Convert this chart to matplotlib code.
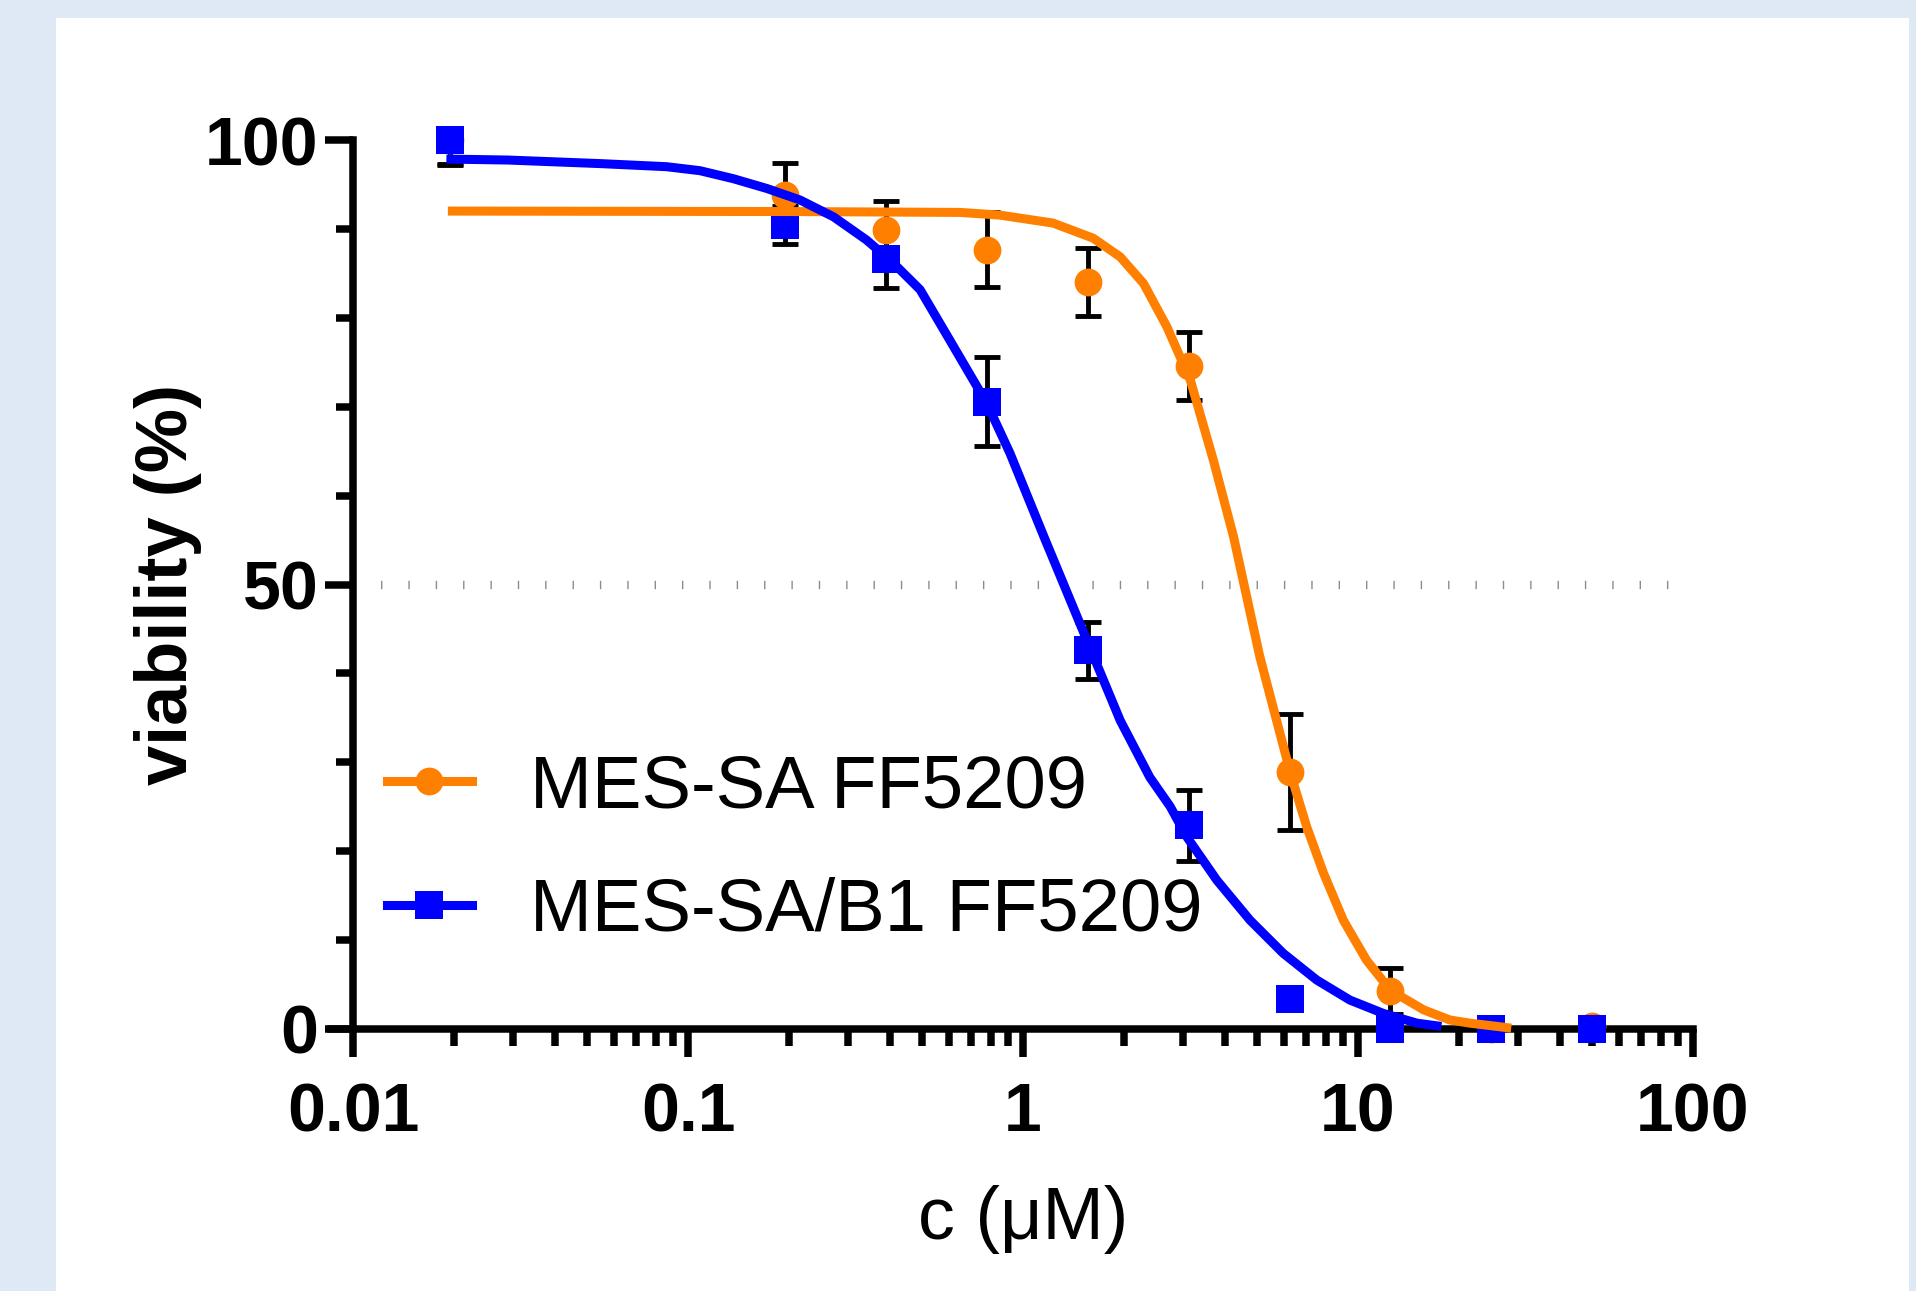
import numpy as np
import matplotlib.pyplot as plt
from matplotlib.lines import Line2D
from matplotlib.patches import Rectangle
from matplotlib.ticker import LogLocator, MultipleLocator, NullFormatter

# concentrations (uM) and mean / SD viability (%)
conc = [0.0195, 0.195, 0.39, 0.78, 1.5625, 3.125, 6.25, 12.5, 25, 50]
mes_mean = [100, 93.9, 89.9, 87.7, 84.1, 74.6, 28.9, 4.2, 0.0, 0.3]
mes_sd = [2.6, 3.6, 3.3, 4.2, 3.85, 3.85, 6.5, 2.6, 0, 0]
b1_mean = [100, 90.5, 86.7, 70.6, 42.6, 22.9, 3.3, 0.0, 0.0, 0.0]
b1_sd = [2.8, 2.1, 3.3, 5.05, 3.2, 4.0, 0, 0.5, 0, 0]

# fitted dose-response curves
mes_fit_x = [0.0198, 0.2, 0.65, 0.853, 1.23, 1.62, 1.95, 2.29, 2.69, 3.16, 3.70,
             4.25, 5.09, 6.27, 7.03, 7.89, 9.04, 10.6, 12.5, 15.7, 18.8, 21.6, 27.8]
mes_fit_y = [92.05, 92.0, 91.9, 91.6, 90.7, 89.0, 86.9, 83.9, 79.0, 73.0, 64.0,
             55.4, 41.9, 28.9, 22.7, 17.5, 12.2, 7.7, 4.3, 2.1, 0.96, 0.6, 0.1]
b1_fit_x = [0.0196, 0.029, 0.0546, 0.0863, 0.1086, 0.1365, 0.1718, 0.216, 0.272,
            0.341, 0.410, 0.493, 0.605, 0.78, 0.914, 1.16, 1.55, 1.95, 2.39,
            2.75, 3.08, 3.79, 4.76, 5.98, 7.53, 9.46, 11.9, 15.0, 17.2]
b1_fit_y = [97.9, 97.8, 97.4, 97.05, 96.6, 95.7, 94.6, 93.3, 91.4,
            88.8, 86.2, 83.2, 77.5, 70.4, 64.8, 55.2, 43.75, 34.7, 28.3,
            25.0, 21.6, 16.7, 12.2, 8.47, 5.46, 3.2, 1.7, 0.6, 0.3]

labels = ['MES-SA FF5209', 'MES-SA/B1 FF5209']
orange = '#FF8000'
blue = '#0000FF'

plt.rcParams['font.family'] = 'Liberation Sans'
plt.rcParams['lines.scale_dashes'] = False

W, H = 1916, 1291
fig = plt.figure(figsize=(W / 100, H / 100), dpi=100, facecolor='#DEE9F5')
fig.patches.append(Rectangle((56 / W, 0), (1909 - 56) / W, 1 - 18 / H,
                             transform=fig.transFigure, facecolor='white',
                             edgecolor='none', zorder=-10))

ax = fig.add_axes([353 / W, (H - 1028.5) / H, 1340 / W, 888 / H])
ax.patch.set_alpha(0)
ax.set_xscale('log')
ax.set_xlim(0.01, 100)
ax.set_ylim(0, 100)

# 50 % reference line
ax.axhline(50, xmin=0.021, xmax=0.984, color='#8c8c8c', lw=6,
           dashes=(1.0, 18.7), dash_capstyle='butt', zorder=1)

for m, s in [(mes_mean, mes_sd), (b1_mean, b1_sd)]:
    ax.errorbar(conc, m, yerr=s, fmt='none', ecolor='black', elinewidth=3.5,
                capsize=9.7, capthick=3.5, zorder=3)

ax.plot(conc, mes_mean, 'o', color=orange, ms=20, mew=0, clip_on=False, zorder=4)
ax.plot(conc, b1_mean, 's', color=blue, ms=20, mew=0, clip_on=False, zorder=5)
ax.plot(mes_fit_x, mes_fit_y, color=orange, lw=6.5, clip_on=False, zorder=6)
ax.plot(b1_fit_x, b1_fit_y, color=blue, lw=6.5, clip_on=False, zorder=7)

# axes styling
for side in ['top', 'right']:
    ax.spines[side].set_visible(False)
for side in ['left', 'bottom']:
    ax.spines[side].set_linewidth(5.4)
ax.spines['bottom'].set_bounds(0.0086, 100)

ax.set_xticks([0.01, 0.1, 1, 10, 100])
ax.set_xticklabels(['0.01', '0.1', '1', '10', '100'], fontweight='bold', fontsize=49)
ax.xaxis.set_minor_locator(LogLocator(base=10, subs=np.arange(2, 10)))
ax.xaxis.set_minor_formatter(NullFormatter())
ax.set_yticks([0, 50, 100])
ax.set_yticklabels(['0', '50', '100'], fontweight='bold', fontsize=49)
ax.yaxis.set_minor_locator(MultipleLocator(10))
ax.tick_params(which='major', length=20, width=5.4)
ax.tick_params(which='minor', length=12, width=5.4)
ax.tick_params(axis='x', which='major', pad=18)
ax.tick_params(axis='y', which='major', pad=5)

ax.set_xlabel('c (μM)', fontsize=53)
ax.xaxis.set_label_coords(0.5, -0.176)
ax.set_ylabel('viability (%)', fontsize=52, fontweight='bold')
ax.yaxis.set_label_coords(-0.1127, 0.5)

handles = [Line2D([], [], color=orange, marker='o', ms=20, mew=0, lw=6.5),
           Line2D([], [], color=blue, marker='s', ms=20, mew=0, lw=6.5)]
ax.legend(handles, labels, loc='upper left', bbox_to_anchor=(387 / W, (H - 753) / H),
          bbox_transform=fig.transFigure, frameon=False, fontsize=53.5,
          borderpad=0, borderaxespad=0, handlelength=1.14, handletextpad=0.78,
          labelspacing=0.74)

fig.savefig('out.png', dpi=100, facecolor=fig.get_facecolor())
